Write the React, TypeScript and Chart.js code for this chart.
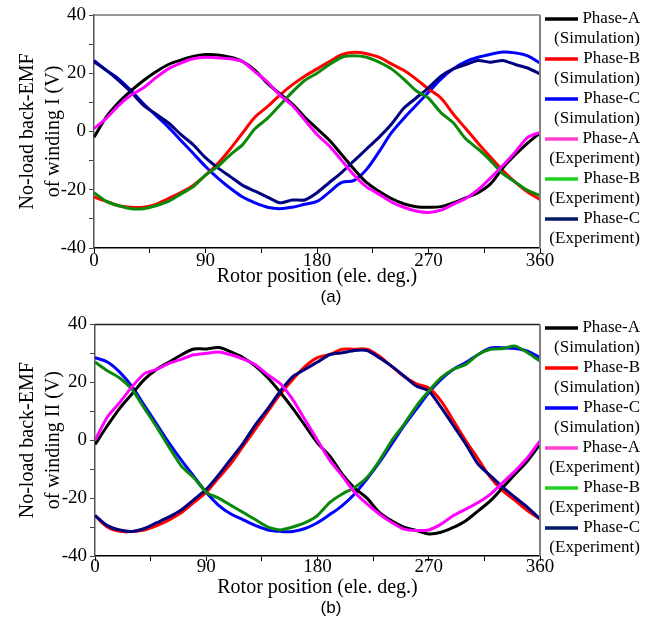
import React, { useEffect, useRef } from "react";
import { Chart, registerables } from "chart.js";
Chart.register(...registerables);

// Rotor position (ele. deg.)
const angles = [0, 10, 20, 30, 40, 50, 60, 70, 80, 90, 100, 110, 120, 130, 140, 150, 160, 170, 180, 190, 200, 210, 220, 230, 240, 250, 260, 270, 280, 290, 300, 310, 320, 330, 340, 350, 360];

// (a) winding I
const simA_I = [-2, 5, 10, 14, 17.5, 20.5, 23, 24.5, 25.8, 26.4, 26.3, 25.5, 24, 21, 16.5, 13, 9.5, 5, 1, -3, -8, -13, -17.5, -20.5, -23, -24.8, -25.8, -26, -25.8, -24.5, -22.8, -21, -18, -12.5, -8, -4, -0.5];
const simB_I = [-22.5, -24, -25.5, -26, -26, -25, -23, -21, -18.5, -15, -11, -6, -0.5, 5, 8.5, 12.5, 16, 19, 21.5, 24, 26.4, 27.2, 26.7, 25.5, 23.2, 21, 18, 14.6, 11.5, 6, 1, -4, -8.8, -13.4, -17.4, -20.8, -23.3];
const simC_I = [24.4, 21, 18, 14, 9.5, 5.5, 1.5, -3, -7.5, -12, -16, -19.5, -22.5, -24.5, -26, -26.5, -26, -25, -24, -20.8, -17.5, -16.8, -13, -7, -0.5, 4.5, 9, 13.5, 18, 21.5, 24, 25.5, 26.5, 27.3, 27, 26, 23.5];
const expA_I = [1, 4.5, 9, 12.5, 15, 18.5, 21.5, 23.5, 25, 25.5, 25.3, 25, 24, 20.5, 17, 12.5, 9, 4, -1, -5, -10, -15, -19, -21.5, -24.2, -26, -27.3, -27.8, -27, -25, -23, -20, -16, -11.7, -7, -2, -0.3];
const expB_I = [-21, -24, -25.5, -26.5, -26.5, -25.5, -24, -21.5, -19, -15, -12, -8, -4.5, 1, 4.5, 9, 13.5, 17.5, 20, 23, 25.5, 26, 25.5, 23.8, 21.5, 18, 14, 11.5, 6.5, 3, -2.5, -6, -10, -14.5, -17.4, -20.2, -22];
const expC_I = [24, 21, 17.5, 13.5, 9, 6, 3, -1, -4.5, -9, -12.5, -15.5, -18.5, -20.5, -22.5, -24.5, -23.5, -23.5, -21, -17.5, -14, -10, -6, -2, 2.5, 8, 11.5, 15, 19, 21.5, 23, 24.4, 23.8, 24.4, 23, 21.8, 19.8];

// (b) winding II
const simA_II = [-1.5, 5, 11, 16, 21, 24.5, 27, 29.5, 31.5, 31.5, 32, 30.5, 28.5, 25.5, 21.5, 16.5, 11, 5, -1, -5.5, -11.7, -16.5, -20, -24.9, -27.8, -30, -31.2, -32.4, -31.8, -30.1, -27.8, -24.4, -20.9, -16.3, -11.7, -7.1, -1.4];
const simB_II = [-26, -30, -31.5, -31.5, -31, -29.5, -27.5, -25, -21.5, -18, -13, -8, -2, 4, 10, 16, 21, 25.5, 28.5, 29.6, 31.4, 31.4, 31.4, 29, 25.5, 22, 19.5, 18, 13.5, 6.7, -0.2, -6.5, -12.9, -17.5, -20.9, -24.4, -27.2];
const simC_II = [28.5, 27, 23.5, 18.5, 12, 5.5, -1, -7, -12.5, -18, -22.5, -25.5, -27.5, -29.5, -31, -31.5, -31.5, -30.5, -28.5, -25.7, -22.6, -18.6, -13.4, -7.7, -1.4, 5, 10.7, 16.4, 21, 24.5, 26.8, 29.6, 31.9, 31.9, 31.7, 30.8, 28.5];
const expA_II = [0, 8, 13, 18.5, 23, 24.5, 26.5, 28, 29.5, 30, 30.5, 29.5, 28, 26, 22.5, 19.5, 14, 7, 0, -7, -12.3, -18, -22, -25.5, -28.4, -30.7, -31.2, -31, -29, -26, -23.8, -21.5, -18.6, -14.6, -10.6, -6, -0.2];
const expB_II = [27, 24, 21.5, 17.5, 11, 4.5, -2.5, -9, -13, -18, -20, -22.5, -25, -27.5, -30, -31, -30, -28.5, -26, -21.5, -18.6, -16.3, -12.9, -7.1, -0.2, 5.5, 11.8, 17, 21.6, 24.5, 26.2, 29.6, 31.4, 31.7, 32.5, 30.2, 27.3];
const expC_II = [-26, -29.5, -31, -31.5, -30.5, -28.5, -26.5, -24, -20.5, -17, -12, -6.5, -1, 5.5, 11, 17, 22, 24.5, 27, 29.6, 30.2, 31, 31, 28.5, 25.6, 22.2, 18.7, 17, 11.3, 5, -1.4, -8.3, -12.3, -16.3, -19.8, -23.2, -27.2];

const seriesNames = ["Phase-A", "Phase-B", "Phase-C", "Phase-A", "Phase-B", "Phase-C"];
const seriesKinds = ["(Simulation)", "(Simulation)", "(Simulation)", "(Experiment)", "(Experiment)", "(Experiment)"];
const lineColors = ["#000000", "#ff0000", "#0000ff", "#ff00ff", "#0a8a0a", "#000080"];
const legendColors = ["#000000", "#ff0000", "#0000ff", "#ff40d0", "#20d020", "#001a66"];

const xTicks = [0, 90, 180, 270, 360];
const yTicks = [-40, -20, 0, 20, 40];
const xTitle = "Rotor position (ele. deg.)";
const yTitleA = ["No-load back-EMF", "of winding I (V)"];
const yTitleB = ["No-load back-EMF", "of winding II (V)"];

const SERIF = "'Liberation Serif', 'Times New Roman', serif";
const SANS = "'Liberation Sans', Arial, sans-serif";

const decorPlugin = {
  id: "decor",
  afterDraw(chart: any, _args: any, opts: any) {
    const { ctx, chartArea } = chart;
    const { left, top, right, bottom } = chartArea;
    ctx.save();
    ctx.strokeStyle = opts.frameColor;
    ctx.lineWidth = 1.5;
    ctx.beginPath();
    ctx.moveTo(left, top);
    ctx.lineTo(right, top);
    ctx.stroke();
    ctx.strokeStyle = "#808080";
    ctx.lineWidth = 2;
    ctx.beginPath();
    ctx.moveTo(right, top);
    ctx.lineTo(right, bottom);
    ctx.stroke();
    // legend
    ctx.font = `17px ${SERIF}`;
    ctx.textBaseline = "middle";
    ctx.textAlign = "right";
    chart.data.datasets.forEach((ds: any, i: number) => {
      const y = opts.legendTop + i * 40;
      ctx.strokeStyle = legendColors[i];
      ctx.lineWidth = 3.5;
      ctx.beginPath();
      ctx.moveTo(545, y);
      ctx.lineTo(578, y);
      ctx.stroke();
      ctx.fillStyle = "#000";
      ctx.fillText(ds.label[0], 640, y);
      ctx.fillText(ds.label[1], 640, y + 20);
    });
    // caption
    ctx.font = `17px ${SANS}`;
    ctx.textAlign = "center";
    ctx.fillText(opts.caption, 331, opts.captionY);
    ctx.restore();
  },
};

function makeConfig(series: number[][], yTitle: string[], p: any) {
  const datasets = series.map((vals, i) => ({
    label: [seriesNames[i], seriesKinds[i]],
    data: angles.map((a, j) => ({ x: a, y: vals[j] })),
    borderColor: lineColors[i],
    backgroundColor: lineColors[i],
    borderWidth: 3,
    pointRadius: 0,
    tension: i < 3 ? 0.35 : 0.2,
    fill: false,
    order: i < 3 ? 1 : 0,
  }));
  return {
    type: "line",
    data: { datasets },
    plugins: [decorPlugin],
    options: {
      animation: false,
      responsive: false,
      devicePixelRatio: 1,
      layout: { padding: { top: p.top, right: 122, left: 0, bottom: 0 } },
      plugins: {
        legend: { display: false },
        tooltip: { enabled: false },
        decor: { legendTop: p.legendTop, caption: p.caption, captionY: p.captionY, frameColor: p.frameColor },
      },
      scales: {
        x: {
          type: "linear",
          min: 0,
          max: 360,
          afterFit: (s: any) => { s.height = p.xAxisH; },
          afterBuildTicks: (s: any) => {
            const t: any[] = [];
            for (let v = 0; v <= 360; v += 45) t.push({ value: v });
            s.ticks = t;
          },
          ticks: {
            autoSkip: false,
            maxRotation: 0,
            padding: p.xTickPad,
            color: "#000",
            font: { family: SERIF, size: 19 },
            callback: (v: number) => (xTicks.includes(v) ? String(v) : ""),
          },
          grid: { drawOnChartArea: false, drawTicks: true, tickLength: 5, tickColor: "#000", tickWidth: 1 },
          border: { display: true, color: "#000", width: 1.5 },
          title: {
            display: true,
            text: xTitle,
            color: "#000",
            font: { family: SERIF, size: 20, lineHeight: 1.2 },
            padding: { top: 0, bottom: p.xTitlePad },
          },
        },
        y: {
          type: "linear",
          min: -40,
          max: 40,
          afterFit: (s: any) => { s.width = p.yAxisW; },
          afterBuildTicks: (s: any) => {
            const t: any[] = [];
            for (let v = -40; v <= 40; v += 10) t.push({ value: v });
            s.ticks = t;
          },
          ticks: {
            autoSkip: false,
            padding: 3,
            color: "#000",
            font: { family: SERIF, size: 19 },
            callback: (v: number) => (yTicks.includes(v) ? String(v) : ""),
          },
          grid: { drawOnChartArea: false, drawTicks: true, tickLength: 5, tickColor: "#444", tickWidth: 1 },
          border: { display: true, color: "#555", width: 1.5 },
          title: {
            display: true,
            text: yTitle,
            color: "#000",
            font: { family: SERIF, size: 20, lineHeight: 1.3 },
            padding: { top: 15, bottom: 0 },
          },
        },
      },
    },
  };
}

export default function App() {
  const r1 = useRef<HTMLCanvasElement>(null);
  const r2 = useRef<HTMLCanvasElement>(null);
  useEffect(() => {
    const c1 = new Chart(
      r1.current as HTMLCanvasElement,
      makeConfig([simA_I, simB_I, simC_I, expA_I, expB_I, expC_I], yTitleA, {
        top: 15, legendTop: 19, caption: "(a)", captionY: 297, frameColor: "#777",
        xAxisH: 62, xTitlePad: 21, yAxisW: 94, xTickPad: -3,
      }) as any
    );
    const c2 = new Chart(
      r2.current as HTMLCanvasElement,
      makeConfig([simA_II, simB_II, simC_II, expA_II, expB_II, expC_II], yTitleB, {
        top: 13, legendTop: 18, caption: "(b)", captionY: 298, frameColor: "#222",
        xAxisH: 65, xTitlePad: 21, yAxisW: 95, xTickPad: -5,
      }) as any
    );
    return () => { c1.destroy(); c2.destroy(); };
  }, []);
  return (
    <div style={{ position: "absolute", left: 0, top: 0, width: 662, height: 621, background: "#fff" }}>
      <canvas ref={r1} width={662} height={310} style={{ position: "absolute", left: 0, top: 0, display: "block" }} />
      <canvas ref={r2} width={662} height={311} style={{ position: "absolute", left: 0, top: 310, display: "block" }} />
    </div>
  );
}
